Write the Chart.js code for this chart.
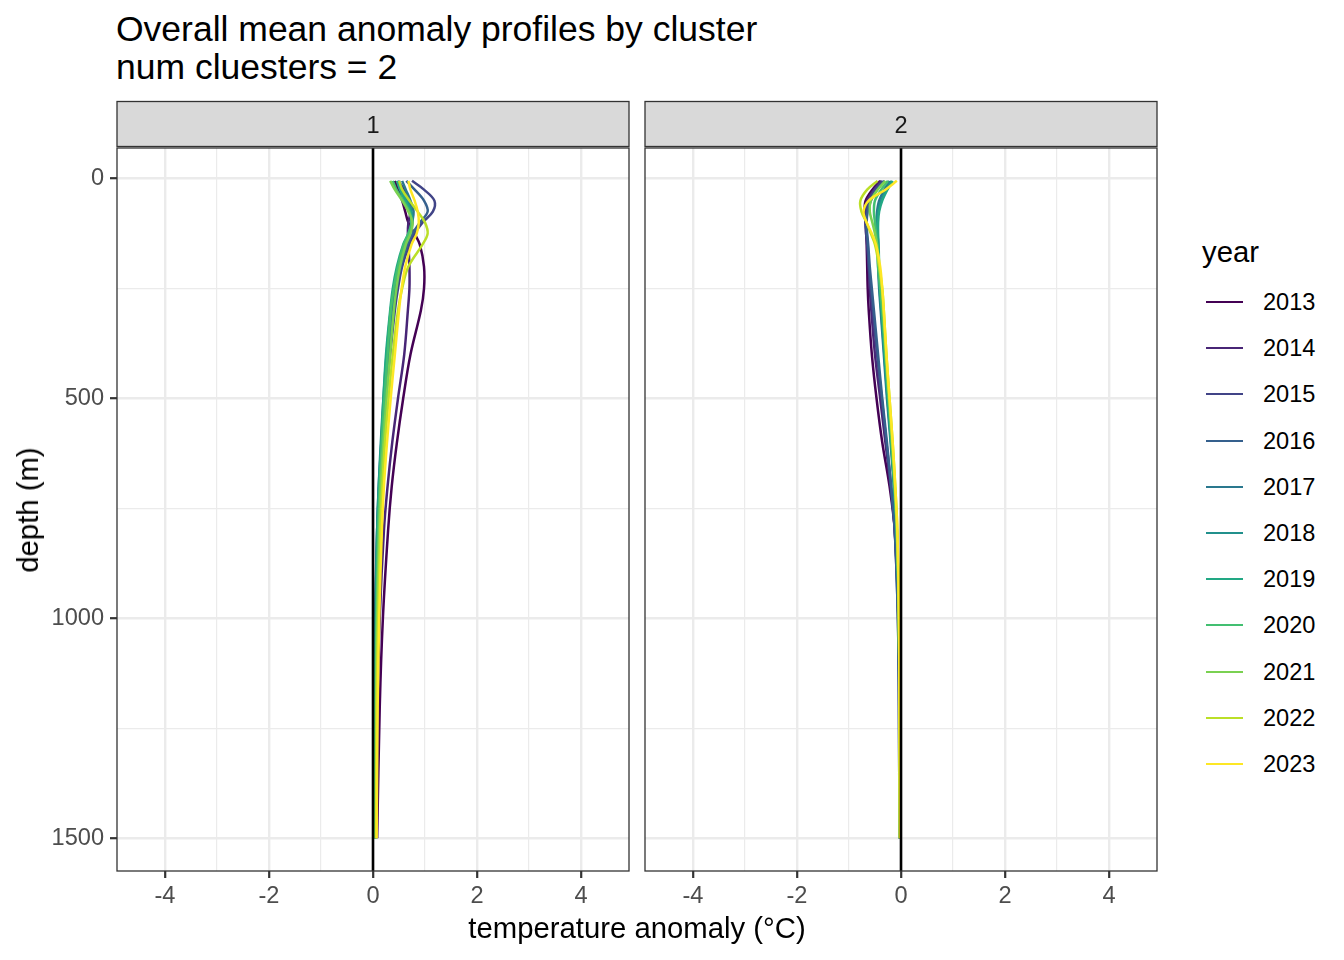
<!DOCTYPE html>
<html>
<head>
<meta charset="utf-8">
<script src="https://cdn.jsdelivr.net/npm/chart.js@4.4.1/dist/chart.umd.min.js"></script>
<style>
  body { margin: 0; background: #fff; font-family: "Liberation Sans", Arial, sans-serif; }
  #wrap { position: relative; width: 1344px; height: 960px; overflow: hidden; }
  canvas { position: absolute; }
  .txt { position: absolute; white-space: nowrap; color: #000; }
  .leg-row { position: absolute; left: 1206px; height: 2px; }
  .leg-line { position: absolute; left: 0; width: 37px; height: 2px; }
  .leg-lab { position: absolute; left: 57px; top: -14px; font-size: 23.6px; line-height: 30px; color: #000; }
</style>
</head>
<body>
<div id="wrap">
  <div class="txt" style="left:116px; top:10px; font-size:35.5px; line-height:38px;">Overall mean anomaly profiles by cluster<br>num cluesters = 2</div>
  <canvas id="p1" width="640" height="865" style="left:0; top:95px; width:640px; height:865px;"></canvas>
  <canvas id="p2" width="540" height="865" style="left:640px; top:95px; width:540px; height:865px;"></canvas>
  <div class="txt" style="left:637px; top:911px; font-size:29.3px; line-height:34px; transform:translateX(-50%);">temperature anomaly (°C)</div>
  <div class="txt" style="left:28px; top:510px; font-size:29.3px; line-height:34px; transform:translate(-50%,-50%) rotate(-90deg);">depth (m)</div>
  <div class="txt" style="left:1202px; top:235px; font-size:29.3px; line-height:34px;">year</div>
  <div id="legend"></div>
</div>
<script>
// years / colours (viridis)
const years = [2013, 2014, 2015, 2016, 2017, 2018, 2019, 2020, 2021, 2022, 2023];
const colors = ['#440154', '#482576', '#414487', '#35608D', '#2A788E', '#21908C',
                '#22A884', '#43BF71', '#7AD151', '#BBDF27', '#FDE725'];

// depth levels (m)
const depths = [5, 25, 50, 75, 100, 125, 150, 200, 250, 300, 400, 500, 600, 700, 800, 1000, 1200, 1500];

// axis ticks
const xTicks = [-4, -3, -2, -1, 0, 1, 2, 3, 4];
const yTicks = [0, 250, 500, 750, 1000, 1250, 1500];
const panels = ['1', '2'];

// cluster 1 mean anomaly, one row per year (2013 .. 2023)
const cluster1 = [
  [0.42, 0.48, 0.56, 0.62, 0.68, 0.80, 0.90, 0.98, 0.98, 0.92, 0.72, 0.58, 0.46, 0.36, 0.29, 0.19, 0.13, 0.08],
  [0.48, 0.60, 0.70, 0.72, 0.68, 0.67, 0.68, 0.70, 0.70, 0.67, 0.60, 0.48, 0.37, 0.28, 0.21, 0.13, 0.09, 0.07],
  [0.75, 0.98, 1.18, 1.15, 0.95, 0.80, 0.70, 0.56, 0.48, 0.42, 0.33, 0.25, 0.19, 0.14, 0.10, 0.06, 0.04, 0.04],
  [0.64, 0.80, 0.98, 1.05, 0.90, 0.76, 0.66, 0.53, 0.45, 0.40, 0.31, 0.23, 0.17, 0.12, 0.08, 0.04, 0.03, 0.03],
  [0.56, 0.63, 0.72, 0.78, 0.75, 0.70, 0.63, 0.50, 0.42, 0.36, 0.28, 0.21, 0.16, 0.11, 0.08, 0.05, 0.04, 0.04],
  [0.50, 0.56, 0.66, 0.74, 0.76, 0.70, 0.61, 0.48, 0.40, 0.34, 0.26, 0.20, 0.15, 0.11, 0.08, 0.05, 0.04, 0.04],
  [0.46, 0.52, 0.62, 0.72, 0.74, 0.68, 0.58, 0.46, 0.38, 0.33, 0.25, 0.20, 0.16, 0.12, 0.09, 0.06, 0.05, 0.05],
  [0.38, 0.45, 0.58, 0.70, 0.74, 0.68, 0.59, 0.48, 0.40, 0.34, 0.28, 0.22, 0.17, 0.13, 0.10, 0.07, 0.05, 0.05],
  [0.33, 0.42, 0.56, 0.68, 0.76, 0.72, 0.63, 0.52, 0.45, 0.40, 0.33, 0.26, 0.20, 0.15, 0.12, 0.08, 0.06, 0.05],
  [0.50, 0.56, 0.70, 0.86, 1.00, 1.05, 0.95, 0.68, 0.56, 0.48, 0.38, 0.30, 0.23, 0.18, 0.14, 0.10, 0.07, 0.06],
  [0.68, 0.72, 0.80, 0.86, 0.88, 0.84, 0.74, 0.62, 0.55, 0.50, 0.42, 0.34, 0.27, 0.21, 0.17, 0.12, 0.09, 0.07]
];

// cluster 2 mean anomaly, one row per year (2013 .. 2023)
const cluster2 = [
  [-0.40, -0.55, -0.68, -0.70, -0.68, -0.67, -0.66, -0.65, -0.64, -0.62, -0.56, -0.47, -0.36, -0.22, -0.12, -0.05, -0.03, -0.02],
  [-0.38, -0.52, -0.65, -0.70, -0.68, -0.66, -0.64, -0.62, -0.60, -0.57, -0.50, -0.40, -0.30, -0.20, -0.12, -0.05, -0.03, -0.02],
  [-0.35, -0.50, -0.62, -0.66, -0.68, -0.67, -0.65, -0.62, -0.58, -0.54, -0.46, -0.37, -0.28, -0.19, -0.12, -0.06, -0.04, -0.03],
  [-0.32, -0.46, -0.58, -0.64, -0.66, -0.65, -0.63, -0.60, -0.56, -0.52, -0.44, -0.36, -0.27, -0.19, -0.12, -0.06, -0.04, -0.03],
  [-0.22, -0.32, -0.42, -0.46, -0.47, -0.46, -0.45, -0.44, -0.42, -0.39, -0.33, -0.27, -0.20, -0.14, -0.09, -0.05, -0.03, -0.02],
  [-0.18, -0.28, -0.38, -0.44, -0.46, -0.45, -0.44, -0.43, -0.41, -0.38, -0.32, -0.26, -0.19, -0.13, -0.08, -0.04, -0.03, -0.02],
  [-0.16, -0.26, -0.36, -0.42, -0.44, -0.44, -0.43, -0.42, -0.40, -0.37, -0.31, -0.25, -0.19, -0.13, -0.08, -0.04, -0.03, -0.02],
  [-0.25, -0.38, -0.50, -0.52, -0.50, -0.48, -0.46, -0.44, -0.40, -0.36, -0.30, -0.24, -0.18, -0.12, -0.08, -0.04, -0.03, -0.02],
  [-0.30, -0.45, -0.58, -0.60, -0.55, -0.50, -0.46, -0.42, -0.37, -0.34, -0.29, -0.23, -0.17, -0.12, -0.08, -0.04, -0.03, -0.02],
  [-0.45, -0.65, -0.78, -0.76, -0.66, -0.58, -0.50, -0.42, -0.36, -0.33, -0.28, -0.22, -0.16, -0.11, -0.07, -0.04, -0.03, -0.02],
  [-0.08, -0.30, -0.62, -0.72, -0.66, -0.56, -0.48, -0.40, -0.36, -0.33, -0.28, -0.22, -0.16, -0.11, -0.07, -0.04, -0.03, -0.02]
];

const FONT = '"Liberation Sans", Arial, sans-serif';

// strip on top, frame around panel, vline at x = 0
const facetPlugin = {
  id: 'facet',
  beforeDraw(chart) {
    const a = chart.chartArea, ctx = chart.ctx;
    ctx.save();
    ctx.fillStyle = '#D9D9D9';
    ctx.strokeStyle = '#333333';
    ctx.lineWidth = 1.3;
    ctx.fillRect(a.left, a.top - 46.5, a.right - a.left, 45);
    ctx.strokeRect(a.left, a.top - 46.5, a.right - a.left, 45);
    ctx.fillStyle = '#1A1A1A';
    ctx.font = '23.6px ' + FONT;
    ctx.textAlign = 'center';
    ctx.textBaseline = 'middle';
    ctx.fillText(chart.options.plugins.facet.label, (a.left + a.right) / 2, a.top - 22);
    ctx.restore();
  },
  afterDatasetsDraw(chart) {
    const a = chart.chartArea, ctx = chart.ctx;
    const x0 = chart.scales.x.getPixelForValue(0);
    ctx.save();
    ctx.strokeStyle = '#000';
    ctx.lineWidth = 2.6;
    ctx.beginPath();
    ctx.moveTo(x0, a.top);
    ctx.lineTo(x0, a.bottom);
    ctx.stroke();
    ctx.strokeStyle = '#333333';
    ctx.lineWidth = 1.3;
    ctx.strokeRect(a.left, a.top, a.right - a.left, a.bottom - a.top);
    ctx.restore();
  }
};

function makeChart(id, label, values, showY, leftW, rightPad) {
  const datasets = years.map((yr, i) => ({
    label: String(yr),
    data: depths.map((d, j) => ({ x: values[i][j], y: d })),
    borderColor: colors[i],
    borderWidth: 2.5,
    pointRadius: 0,
    showLine: true,
    tension: 0.35,
    fill: false,
    order: years.length - i
  }));
  const major = v => v % 2 === 0;
  return new Chart(document.getElementById(id), {
    type: 'scatter',
    data: { datasets },
    options: {
      responsive: false,
      animation: false,
      layout: { padding: { top: 53, right: rightPad, left: 0, bottom: 0 } },
      plugins: { legend: { display: false }, tooltip: { enabled: false }, facet: { label } },
      scales: {
        x: {
          type: 'linear', min: -4.92, max: 4.92,
          afterBuildTicks: s => { s.ticks = xTicks.map(v => ({ value: v })); },
          afterFit: s => { s.height = 89; },
          border: { display: false },
          grid: {
            color: '#EBEBEB',
            lineWidth: c => major(c.tick.value) ? 2.4 : 1.2,
            tickColor: c => major(c.tick.value) ? '#333333' : 'rgba(0,0,0,0)',
            tickLength: 7,
            tickWidth: 2.2
          },
          ticks: {
            color: '#4D4D4D', padding: 4, maxRotation: 0, autoSkip: false,
            font: { size: 23.6, family: FONT },
            callback: v => major(v) ? String(v) : ''
          }
        },
        y: {
          type: 'linear', reverse: true, min: -69.75, max: 1574.75,
          afterBuildTicks: s => { s.ticks = yTicks.map(v => ({ value: v })); },
          afterFit: s => { s.width = leftW; },
          border: { display: false },
          grid: {
            color: '#EBEBEB',
            lineWidth: c => c.tick.value % 500 === 0 ? 2.4 : 1.2,
            tickColor: c => (showY && c.tick.value % 500 === 0) ? '#333333' : 'rgba(0,0,0,0)',
            tickLength: showY ? 7 : 0,
            drawTicks: showY,
            tickWidth: 2.2
          },
          ticks: {
            display: showY,
            color: '#4D4D4D', padding: 6, autoSkip: false,
            font: { size: 23.6, family: FONT },
            callback: v => v % 500 === 0 ? String(v) : ''
          }
        }
      }
    },
    plugins: [facetPlugin]
  });
}

makeChart('p1', panels[0], cluster1, true, 117, 11);
makeChart('p2', panels[1], cluster2, false, 5, 23);

// legend
const leg = document.getElementById('legend');
years.forEach((yr, i) => {
  const row = document.createElement('div');
  row.className = 'leg-row';
  row.style.top = Math.round(301 + i * 46.2) + 'px';
  row.innerHTML = '<div class="leg-line" style="background:' + colors[i] + '"></div>' +
                  '<div class="leg-lab">' + yr + '</div>';
  leg.appendChild(row);
});
</script>
</body>
</html>
